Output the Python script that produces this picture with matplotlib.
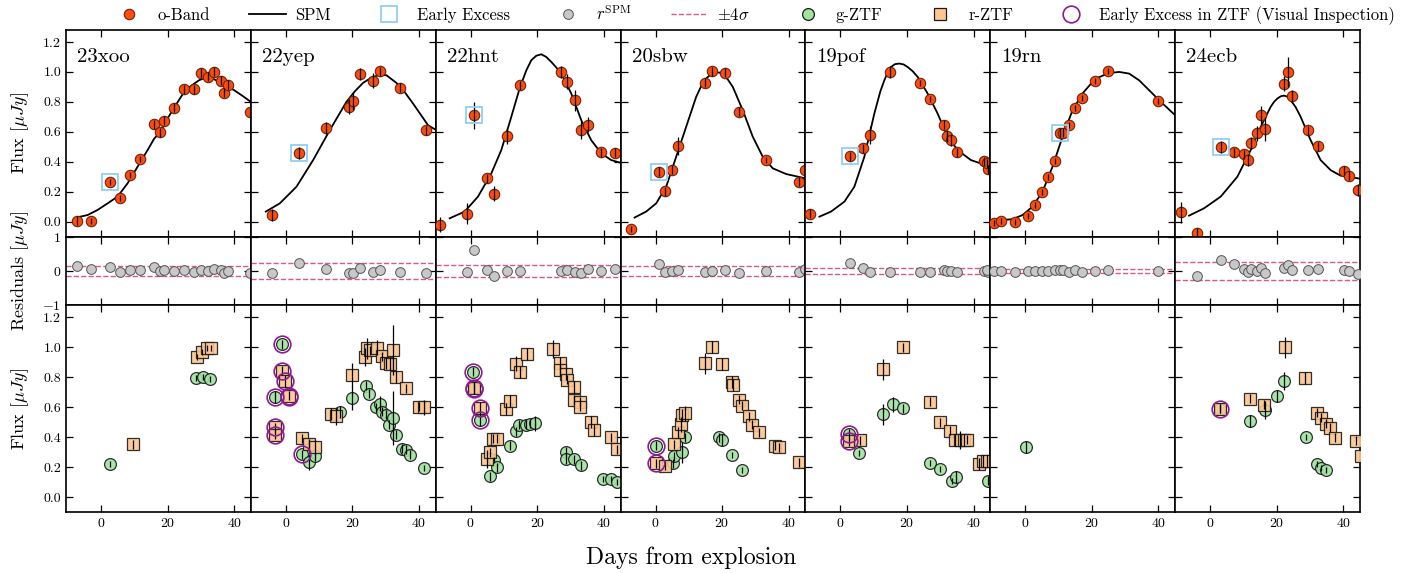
import matplotlib
matplotlib.use('Agg')
import matplotlib.pyplot as plt
from matplotlib.lines import Line2D

plt.rcParams.update({
    'font.family': 'serif',
    'font.serif': ['cmr10', 'DejaVu Serif'],
    'mathtext.fontset': 'cm',
    'axes.formatter.use_mathtext': True,
    'axes.unicode_minus': True,
})

names = ['23xoo', '22yep', '22hnt', '20sbw', '19pof', '19rn', '24ecb']

# ---- o-band photometry ----
o_days = [
    [-7.3, -3.0, 2.8, 5.8, 8.8, 11.8, 16.0, 17.8, 19.0, 22.0, 25.0, 28.0, 30.0, 32.0, 34.0, 36.0, 37.0, 38.2, 44.8],
    [-4.1, 3.9, 12.0, 19.0, 20.2, 22.2, 26.2, 28.2, 34.2, 42.2],
    [-9.1, -1.1, 0.9, 4.9, 6.9, 10.9, 14.9, 27.2, 29.0, 31.2, 33.2, 35.2, 39.2, 43.2],
    [-7.3, 0.9, 2.9, 4.9, 6.9, 14.9, 17.0, 21.0, 25.0, 33.2, 43.2, 45.0],
    [-9.1, 2.9, 6.9, 8.9, 14.9, 24.0, 27.0, 31.0, 32.0, 33.2, 35.0, 43.2, 44.2, 44.0],
    [-9.3, -7.3, -3.1, 0.7, 2.9, 4.9, 6.7, 8.9, 10.4, 11.4, 13.0, 14.9, 16.9, 20.9, 25.0, 40.0],
    [-8.8, -3.8, 3.2, 7.2, 10.2, 11.4, 12.2, 14.2, 15.2, 16.4, 22.2, 23.3, 24.6, 29.3, 32.3, 40.3, 41.6, 44.4],
]
o_flux = [
    [0.007, 0.007, 0.264, 0.158, 0.309, 0.416, 0.651, 0.598, 0.673, 0.762, 0.884, 0.884, 0.993, 0.967, 1.002, 0.940, 0.860, 0.913, 0.729],
    [0.042, 0.460, 0.627, 0.767, 0.804, 0.984, 0.940, 1.004, 0.893, 0.611],
    [-0.022, 0.053, 0.711, 0.289, 0.187, 0.569, 0.911, 1.002, 0.933, 0.811, 0.613, 0.647, 0.464, 0.460],
    [-0.047, 0.333, 0.204, 0.347, 0.507, 0.927, 1.004, 0.993, 0.733, 0.411, 0.267, 0.344],
    [0.053, 0.436, 0.489, 0.576, 1.002, 0.929, 0.818, 0.647, 0.571, 0.544, 0.462, 0.404, 0.349, 0.390],
    [-0.007, 0.004, 0.000, 0.038, 0.111, 0.198, 0.298, 0.407, 0.593, 0.593, 0.644, 0.762, 0.829, 0.942, 1.004, 0.809],
    [0.064, -0.073, 0.496, 0.462, 0.451, 0.411, 0.524, 0.589, 0.713, 0.618, 0.920, 1.002, 0.838, 0.609, 0.504, 0.340, 0.307, 0.211],
]
o_err = [
    [0.03, 0.02, 0.02, 0.02, 0.02, 0.02, 0.03, 0.03, 0.03, 0.03, 0.03, 0.03, 0.03, 0.03, 0.03, 0.03, 0.03, 0.03, 0.03],
    [0.04, 0.04, 0.04, 0.05, 0.06, 0.04, 0.05, 0.03, 0.03, 0.03],
    [0.05, 0.07, 0.09, 0.03, 0.05, 0.05, 0.03, 0.04, 0.05, 0.07, 0.06, 0.05, 0.03, 0.03],
    [0.02, 0.03, 0.03, 0.03, 0.06, 0.03, 0.03, 0.03, 0.03, 0.02, 0.03, 0.03],
    [0.03, 0.03, 0.03, 0.06, 0.04, 0.02, 0.02, 0.03, 0.04, 0.04, 0.03, 0.03, 0.03, 0.03],
    [0.02, 0.02, 0.02, 0.02, 0.02, 0.02, 0.02, 0.02, 0.03, 0.03, 0.02, 0.02, 0.02, 0.02, 0.02, 0.02],
    [0.07, 0.03, 0.04, 0.03, 0.03, 0.04, 0.04, 0.05, 0.06, 0.08, 0.05, 0.10, 0.04, 0.03, 0.03, 0.03, 0.03, 0.04],
]

# ---- early excess (o-band) ----
ee_days = [[2.8], [3.9], [0.9], [0.9], [2.9], [10.4], [3.2]]
ee_flux = [[0.264], [0.460], [0.711], [0.333], [0.436], [0.593], [0.496]]

# ---- SPM model curves ----
spm_days = [
    [-7, -4, -1, 2, 5, 8, 11, 14, 16, 17.8, 20, 22, 23.5, 25, 26.5, 28, 29.5, 31, 32.5, 34, 35.5, 37, 40, 42.5, 45],
    [-6, -1.8, 3.2, 8.2, 13.2, 18.2, 20.7, 23.2, 25.7, 28.2, 30.2, 33.2, 35.7, 38.2, 42.7, 45.2],
    [-6.3, -1.8, 2.2, 6.2, 9.2, 12.2, 14.7, 16.7, 18.2, 19.7, 21.2, 22.7, 24.2, 25.7, 27.2, 30.2, 33.2, 36.2, 39.2, 42.2, 45],
    [-6.3, -2.8, 0.2, 3.2, 6.2, 9.2, 12.2, 13.7, 15.2, 16.7, 18.2, 19.2, 20.2, 21.7, 23.2, 26.2, 29.2, 32.2, 35.2, 39.2, 45],
    [-6.3, -2.8, 1.2, 4.2, 7.2, 10.2, 12.0, 13.2, 14.2, 15.2, 16.4, 17.7, 19.0, 20.2, 21.7, 23.2, 26.2, 29.2, 32.2, 35.2, 39.2, 45],
    [-9.3, -3.8, -0.8, 2.2, 5.2, 8.2, 11.2, 14.2, 17.2, 20.2, 22.2, 24.2, 26.2, 28.2, 31.2, 34.2, 37.2, 40.2, 45],
    [-6.3, -1.8, 3.2, 8.2, 12.2, 15.2, 18.2, 19.2, 20.2, 21.2, 22.2, 23.2, 24.2, 25.7, 27.2, 30.2, 33.2, 36.2, 39.2, 45],
]
spm_flux = [
    [0.029, 0.044, 0.078, 0.122, 0.167, 0.256, 0.367, 0.478, 0.555, 0.598, 0.689, 0.762, 0.815, 0.867, 0.897, 0.922, 0.945, 0.958, 0.960, 0.951, 0.933, 0.911, 0.878, 0.840, 0.800],
    [0.067, 0.122, 0.233, 0.411, 0.611, 0.800, 0.870, 0.927, 0.962, 0.982, 0.978, 0.927, 0.865, 0.789, 0.644, 0.611],
    [0.022, 0.067, 0.167, 0.322, 0.478, 0.700, 0.890, 1.010, 1.078, 1.108, 1.118, 1.100, 1.067, 1.030, 0.989, 0.856, 0.678, 0.544, 0.456, 0.411, 0.393],
    [0.027, 0.067, 0.122, 0.233, 0.433, 0.633, 0.833, 0.905, 0.956, 0.985, 0.995, 0.996, 0.984, 0.950, 0.900, 0.744, 0.567, 0.433, 0.356, 0.318, 0.289],
    [0.033, 0.067, 0.133, 0.233, 0.433, 0.722, 0.870, 0.944, 0.995, 1.033, 1.052, 1.056, 1.050, 1.033, 1.005, 0.967, 0.856, 0.722, 0.567, 0.478, 0.411, 0.367],
    [0.007, 0.016, 0.044, 0.100, 0.200, 0.367, 0.567, 0.744, 0.856, 0.933, 0.965, 0.984, 0.995, 1.000, 0.989, 0.944, 0.878, 0.811, 0.711],
    [0.040, 0.089, 0.167, 0.300, 0.478, 0.633, 0.767, 0.800, 0.822, 0.837, 0.842, 0.835, 0.811, 0.765, 0.700, 0.544, 0.411, 0.344, 0.307, 0.287],
]

# ---- residuals (r^SPM) ----
res_days = [
    [-7.3, -3.0, 2.8, 5.8, 8.8, 11.8, 16.0, 17.8, 19.0, 22.0, 25.0, 28.0, 30.0, 32.0, 34.0, 36.0, 37.0, 38.2, 44.8],
    [-4.1, 3.9, 12.0, 19.0, 20.2, 22.2, 26.2, 28.2, 34.2, 42.2],
    [-1.1, 0.9, 4.9, 6.9, 10.9, 14.9, 27.2, 29.0, 31.2, 33.2, 35.2, 39.2, 43.2],
    [0.9, 2.9, 4.9, 6.9, 14.9, 17.0, 21.0, 25.0, 33.2, 43.2, 45.0],
    [2.9, 6.9, 8.9, 14.9, 24.0, 27.0, 31.0, 32.0, 33.2, 35.0, 43.2, 44.2, 44.0],
    [-9.3, -7.3, -3.1, 0.7, 2.9, 4.9, 6.7, 8.9, 10.4, 11.4, 13.0, 14.9, 16.9, 20.9, 25.0, 40.0],
    [-3.8, 3.2, 7.2, 10.2, 11.4, 12.2, 14.2, 15.2, 16.4, 22.2, 23.3, 24.6, 29.3, 32.3, 40.3, 41.6, 44.4],
]
res_vals = [
    [0.15, 0.05, 0.13, -0.02, 0.03, 0.03, 0.12, 0.00, 0.03, 0.00, 0.02, -0.04, 0.04, 0.01, 0.05, 0.02, -0.05, 0.01, -0.07],
    [-0.05, 0.22, 0.07, -0.05, -0.05, 0.08, -0.03, 0.02, -0.02, -0.05],
    [-0.02, 0.60, 0.02, -0.15, 0.01, 0.01, 0.01, 0.02, -0.02, -0.07, 0.06, 0.01, 0.06],
    [0.19, -0.02, 0.00, 0.03, -0.02, 0.01, 0.02, -0.07, 0.00, -0.03, 0.05],
    [0.22, 0.08, -0.02, -0.02, -0.02, -0.02, 0.02, 0.00, 0.00, -0.02, 0.01, -0.02, 0.02],
    [-0.01, -0.01, -0.04, -0.01, 0.01, 0.00, -0.01, 0.04, 0.03, 0.03, -0.02, 0.02, -0.03, 0.01, 0.02, 0.00],
    [-0.14, 0.33, 0.19, 0.06, -0.03, 0.05, 0.01, 0.08, -0.06, 0.08, 0.17, 0.04, 0.02, 0.05, 0.04, 0.01, -0.08],
]
sigma4 = [0.15, 0.22, 0.17, 0.14, 0.10, 0.07, 0.26]

# ---- ZTF g ----
g_days = [
    [2.7, 28.5, 30.7, 32.8],
    [-1.1, -3.1, 5.0, 6.9, 8.9, 16.2, 20.0, 24.0, 25.0, 27.0, 28.2, 29.0, 30.2, 31.0, 32.2, 33.2, 34.9, 36.2, 37.2, 41.4],
    [0.7, 0.9, 2.7, 5.8, 6.9, 7.9, 11.9, 13.7, 14.5, 16.7, 17.9, 19.2, 28.7, 28.7, 31.0, 33.0, 39.7, 42.0, 43.9],
    [0.0, 5.2, 5.7, 7.9, 8.9, 19.0, 20.0, 23.0, 26.0],
    [2.7, 5.7, 12.7, 15.7, 18.9, 26.9, 30.0, 33.5, 34.7, 44.4],
    [0.3],
    [2.9, 12.0, 16.4, 20.0, 22.2, 28.7, 32.0, 33.3, 34.8],
]
g_flux = [
    [0.222, 0.793, 0.800, 0.787],
    [1.020, 0.671, 0.287, 0.233, 0.271, 0.571, 0.664, 0.742, 0.689, 0.600, 0.622, 0.571, 0.549, 0.482, 0.527, 0.416, 0.322, 0.316, 0.282, 0.193],
    [0.838, 0.727, 0.516, 0.138, 0.249, 0.198, 0.342, 0.438, 0.482, 0.482, 0.489, 0.493, 0.304, 0.253, 0.253, 0.211, 0.120, 0.120, 0.098],
    [0.344, 0.227, 0.271, 0.298, 0.400, 0.398, 0.378, 0.282, 0.182],
    [0.422, 0.293, 0.553, 0.620, 0.593, 0.227, 0.187, 0.109, 0.133, 0.109],
    [0.335],
    [0.589, 0.509, 0.583, 0.676, 0.776, 0.402, 0.222, 0.196, 0.183],
]
g_err = [
    [0.02, 0.02, 0.02, 0.02],
    [0.03, 0.04, 0.03, 0.05, 0.03, 0.04, 0.08, 0.03, 0.03, 0.03, 0.05, 0.03, 0.03, 0.03, 0.18, 0.03, 0.03, 0.03, 0.03, 0.02],
    [0.03, 0.04, 0.04, 0.03, 0.02, 0.03, 0.03, 0.03, 0.03, 0.03, 0.03, 0.05, 0.03, 0.03, 0.03, 0.03, 0.02, 0.02, 0.02],
    [0.03, 0.03, 0.03, 0.07, 0.03, 0.03, 0.04, 0.02, 0.02],
    [0.03, 0.02, 0.07, 0.05, 0.03, 0.02, 0.02, 0.02, 0.04, 0.03],
    [0.04],
    [0.03, 0.04, 0.06, 0.04, 0.06, 0.02, 0.02, 0.02, 0.02],
]

# ---- ZTF r ----
r_days = [
    [9.5, 28.7, 30.2, 31.7, 33.0],
    [-3.1, -3.1, -1.1, -0.1, 0.9, 4.9, 6.9, 8.9, 13.7, 15.2, 20.0, 23.7, 24.5, 25.4, 27.4, 29.0, 30.2, 31.4, 32.2, 33.2, 36.2, 40.0, 41.4],
    [0.9, 2.7, 4.9, 5.7, 6.7, 7.9, 10.7, 11.7, 13.7, 14.7, 16.9, 24.7, 26.7, 26.7, 28.7, 28.9, 30.9, 30.9, 32.9, 32.9, 36.0, 37.0, 42.0, 44.0],
    [0.0, 2.9, 5.7, 6.7, 7.7, 7.9, 8.9, 14.9, 17.0, 20.0, 22.9, 23.2, 25.0, 26.0, 28.0, 29.0, 31.0, 36.0, 37.2, 43.0],
    [2.7, 6.0, 12.7, 18.7, 26.9, 29.9, 32.9, 34.4, 36.0, 37.0, 37.9, 41.7, 42.7, 43.9],
    [],
    [2.9, 12.0, 16.2, 22.5, 28.5, 32.0, 33.3, 34.8, 36.0, 37.5, 43.8, 45.3],
]
r_flux = [
    [0.353, 0.933, 0.971, 0.993, 0.998],
    [0.467, 0.416, 0.842, 0.776, 0.676, 0.393, 0.356, 0.331, 0.553, 0.538, 0.816, 0.938, 0.993, 0.982, 0.998, 0.942, 0.898, 0.889, 0.982, 0.804, 0.727, 0.604, 0.600],
    [0.727, 0.593, 0.256, 0.298, 0.389, 0.389, 0.589, 0.644, 0.889, 0.838, 0.956, 0.987, 0.898, 0.849, 0.822, 0.782, 0.733, 0.649, 0.638, 0.604, 0.504, 0.449, 0.398, 0.320],
    [0.227, 0.209, 0.353, 0.431, 0.487, 0.549, 0.560, 0.893, 1.000, 0.887, 0.771, 0.749, 0.649, 0.609, 0.538, 0.482, 0.433, 0.342, 0.333, 0.233],
    [0.371, 0.378, 0.853, 1.000, 0.638, 0.498, 0.444, 0.382, 0.382, 0.382, 0.382, 0.222, 0.238, 0.238],
    [],
    [0.589, 0.656, 0.616, 1.000, 0.794, 0.562, 0.529, 0.489, 0.462, 0.396, 0.376, 0.275],
]
r_err = [
    [0.03, 0.02, 0.02, 0.02, 0.02],
    [0.03, 0.03, 0.03, 0.04, 0.03, 0.03, 0.03, 0.05, 0.04, 0.06, 0.08, 0.06, 0.07, 0.03, 0.05, 0.03, 0.04, 0.04, 0.17, 0.04, 0.03, 0.03, 0.05],
    [0.04, 0.04, 0.06, 0.03, 0.03, 0.03, 0.04, 0.04, 0.05, 0.04, 0.04, 0.06, 0.04, 0.04, 0.04, 0.03, 0.04, 0.03, 0.03, 0.03, 0.04, 0.04, 0.03, 0.03],
    [0.03, 0.03, 0.03, 0.04, 0.05, 0.04, 0.05, 0.07, 0.04, 0.04, 0.04, 0.04, 0.03, 0.03, 0.03, 0.03, 0.03, 0.03, 0.03, 0.03],
    [0.03, 0.03, 0.07, 0.03, 0.03, 0.03, 0.03, 0.04, 0.06, 0.04, 0.03, 0.04, 0.04, 0.04],
    [],
    [0.03, 0.03, 0.03, 0.07, 0.04, 0.03, 0.03, 0.03, 0.03, 0.03, 0.03, 0.04],
]

# ---- early excess in ZTF (visual inspection) ----
pur_days = [
    [],
    [-1.1, -3.1, 5.0, -3.1, -3.1, -1.1, -0.1, 0.9, 0.9],
    [0.7, 0.9, 0.9, 2.7, 2.7],
    [0.0, 0.0],
    [2.7, 2.7],
    [],
    [2.9],
]
pur_flux = [
    [],
    [1.020, 0.671, 0.287, 0.467, 0.416, 0.842, 0.776, 0.676, 0.665],
    [0.838, 0.727, 0.722, 0.593, 0.516],
    [0.344, 0.227],
    [0.422, 0.371],
    [],
    [0.589],
]

# ---- styles ----
C_O = '#ff4a10'
C_G = '#9fe39f'
C_R = '#fdc690'
C_EE = '#8fd0f5'
C_PUR = '#8e1b94'
C_SIG = '#d9578c'
C_RES = '#c8c8c8'

fig, axes = plt.subplots(
    3, 7, figsize=(14.1, 5.73), dpi=100,
    gridspec_kw=dict(height_ratios=[3, 1, 3], hspace=0, wspace=0,
                     left=0.0468, right=0.9645, top=0.9476, bottom=0.1065))

for i in range(7):
    at, ar, ab = axes[0, i], axes[1, i], axes[2, i]

    # top: o-band + SPM
    at.plot(spm_days[i], spm_flux[i], color='black', lw=1.3, zorder=2)
    at.plot(o_days[i], o_flux[i], 'o', ms=7.5, mfc=C_O, mec='#6b2408', mew=0.8, zorder=3)
    at.errorbar(o_days[i], o_flux[i], yerr=o_err[i], fmt='none', ecolor='black', elinewidth=0.9, zorder=4)
    at.plot(ee_days[i], ee_flux[i], 's', ms=11, mfc='none', mec=C_EE, mew=1.3, zorder=5)
    at.text(0.06, 0.87, names[i], transform=at.transAxes, fontsize=15, va='center', ha='left')

    # middle: residuals
    ar.axhline(sigma4[i], color=C_SIG, ls='--', lw=1.0, zorder=1)
    ar.axhline(-sigma4[i], color=C_SIG, ls='--', lw=1.0, zorder=1)
    ar.plot(res_days[i], res_vals[i], 'o', ms=7, mfc=C_RES, mec='#555555', mew=0.7, zorder=3)

    # bottom: ZTF
    if g_days[i]:
        ab.plot(g_days[i], g_flux[i], 'o', ms=8.5, mfc=C_G, mec='#1a1a1a', mew=0.9, alpha=0.9, zorder=3)
        ab.errorbar(g_days[i], g_flux[i], yerr=g_err[i], fmt='none', ecolor='black', elinewidth=0.9, zorder=4)
    if r_days[i]:
        ab.plot(r_days[i], r_flux[i], 's', ms=9, mfc=C_R, mec='#1a1a1a', mew=0.9, alpha=0.9, zorder=3)
        ab.errorbar(r_days[i], r_flux[i], yerr=r_err[i], fmt='none', ecolor='black', elinewidth=0.9, zorder=4)
    if pur_days[i]:
        ab.plot(pur_days[i], pur_flux[i], 'o', ms=12, mfc='none', mec=C_PUR, mew=1.2, zorder=5)

    for ax in (at, ar, ab):
        ax.set_xlim(-10.5, 45)
        ax.tick_params(direction='in', top=True, right=True, length=5, width=0.9, labelsize=10)
        for s in ax.spines.values():
            s.set_linewidth(1.2)
        ax.set_xticks([0, 20, 40])
    at.set_ylim(-0.1, 1.28)
    ab.set_ylim(-0.1, 1.28)
    ar.set_ylim(-1, 1)
    at.set_yticks([0.0, 0.2, 0.4, 0.6, 0.8, 1.0, 1.2])
    ab.set_yticks([0.0, 0.2, 0.4, 0.6, 0.8, 1.0, 1.2])
    ar.set_yticks([-1, 0, 1])
    at.tick_params(labelbottom=False)
    ar.tick_params(labelbottom=False)
    if i > 0:
        for ax in (at, ar, ab):
            ax.tick_params(labelleft=False)
    else:
        at.yaxis.set_major_formatter(matplotlib.ticker.FormatStrFormatter('%.1f'))
        ab.yaxis.set_major_formatter(matplotlib.ticker.FormatStrFormatter('%.1f'))

fig.text(0.014, 0.768, r'Flux [$\mu Jy$]', rotation=90, ha='center', va='center', fontsize=13)
fig.text(0.014, 0.527, r'Residuals [$\mu Jy$]', rotation=90, ha='center', va='center', fontsize=13)
fig.text(0.014, 0.286, r'Flux [$\mu Jy$]', rotation=90, ha='center', va='center', fontsize=13)
fig.text(0.49, 0.026, 'Days from explosion', ha='center', va='center', fontsize=17)

handles = [
    Line2D([], [], ls='none', marker='o', ms=7.5, mfc=C_O, mec='#6b2408', mew=0.8),
    Line2D([], [], color='black', lw=1.3),
    Line2D([], [], ls='none', marker='s', ms=11, mfc='none', mec=C_EE, mew=1.3),
    Line2D([], [], ls='none', marker='o', ms=7, mfc=C_RES, mec='#555555', mew=0.7),
    Line2D([], [], color=C_SIG, ls='--', lw=1.0),
    Line2D([], [], ls='none', marker='o', ms=8.5, mfc=C_G, mec='#1a1a1a', mew=0.9),
    Line2D([], [], ls='none', marker='s', ms=9, mfc=C_R, mec='#1a1a1a', mew=0.9),
    Line2D([], [], ls='none', marker='o', ms=12, mfc='none', mec=C_PUR, mew=1.2),
]
labels = ['o-Band', 'SPM', 'Early Excess', r'$r^{\rm SPM}$', r'$\pm4\sigma$', 'g-ZTF', 'r-ZTF',
          'Early Excess in ZTF (Visual Inspection)']
fig.legend(handles, labels, loc='center', bbox_to_anchor=(0.534, 0.975), ncol=8, frameon=False,
           fontsize=12, handlelength=2.2, columnspacing=2.35, handletextpad=0.6)

fig.savefig('out.png', dpi=100)
